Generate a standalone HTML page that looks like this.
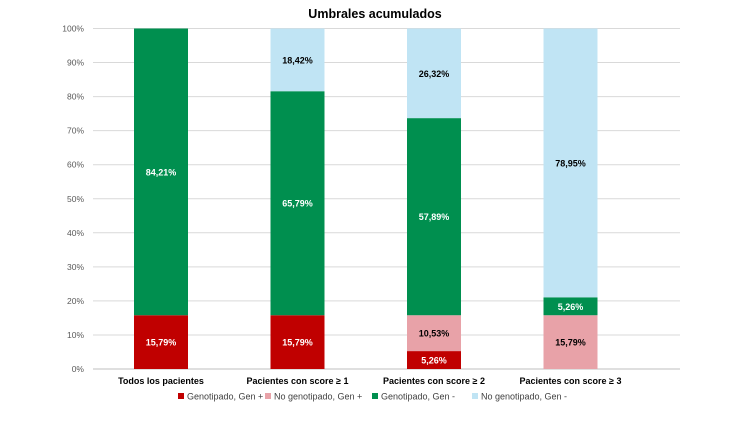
<!DOCTYPE html>
<html><head><meta charset="utf-8"><style>
body{margin:0;background:#fff;font-family:"Liberation Sans",sans-serif}
svg text{font-family:"Liberation Sans",sans-serif}
</style></head><body>
<svg id="c" width="750" height="422">
<text x="375" y="18" text-anchor="middle" font-size="12.5" font-weight="bold" fill="#000">Umbrales acumulados</text>
<g id="grid"></g><g id="bars"></g><g id="xl"></g>
<g id="legend"></g>
</svg>
<script>
const categories=["Todos los pacientes","Pacientes con score ≥ 1","Pacientes con score ≥ 2","Pacientes con score ≥ 3"];
const seriesNames=["Genotipado, Gen +","No genotipado, Gen +","Genotipado, Gen -","No genotipado, Gen -"];
const genPos=[15.79,15.79,5.26,0];
const noGenPos=[0,0,10.53,15.79];
const genNeg=[84.21,65.79,57.89,5.26];
const noGenNeg=[0,18.42,26.32,78.95];
const ticks=[0,10,20,30,40,50,60,70,80,90,100];
const colors=["#C00000","#E8A2A8","#008F4F","#C0E4F4"];
const labelColors=["#fff","#000","#fff","#000"];
const NS="http://www.w3.org/2000/svg";
const y=v=>369-v*3.405;
const xc=i=>161+i*136.5;
function mk(t,a,p){const e=document.createElementNS(NS,t);for(const k in a)e.setAttribute(k,a[k]);p.appendChild(e);return e;}
const grid=document.getElementById('grid');
ticks.forEach(t=>{
 const l=mk('line',{x1:93,x2:680,y1:y(t),y2:y(t),stroke:t===0?'#bfbfbf':'#d9d9d9','stroke-width':1},grid);
 
 
 const tx=mk('text',{x:84,y:y(t)+3,'text-anchor':'end','font-size':8.5,fill:'#595959'},grid);
 tx.textContent=t+'%';
 
 
});
const series=[genPos,noGenPos,genNeg,noGenNeg];
const bars=document.getElementById('bars');
categories.forEach((c,i)=>{
 let acc=0;
 series.forEach((s,k)=>{
  const v=s[i]; if(v<=0)return;
  const r=mk('rect',{x:xc(i)-27,width:54,y:y(acc+v),height:y(acc)-y(acc+v),fill:colors[k]},bars);
  
  
  const t=mk('text',{x:xc(i),y:(y(acc)+y(acc+v))/2+3.5,'text-anchor':'middle','font-size':9,'font-weight':'bold',fill:labelColors[k]},bars);
  t.textContent=v.toFixed(2).replace('.',',')+'%';
  
  
  acc+=v;
 });
 const xt=mk('text',{x:xc(i),y:384,'text-anchor':'middle','font-size':9,'font-weight':'bold',fill:'#000'},document.getElementById('xl'));
 xt.textContent=c;
 
 
});
const lg=document.getElementById('legend');
const lx=[178,265,372,472];
seriesNames.forEach((n,k)=>{
 const r=mk('rect',{x:lx[k],y:393,width:6,height:6,fill:colors[k]},lg);
 
 
 const t=mk('text',{x:lx[k]+9,y:399.5,'font-size':9,fill:'#404040'},lg);
 t.textContent=n;
 
 
});
</script>
</body></html>
